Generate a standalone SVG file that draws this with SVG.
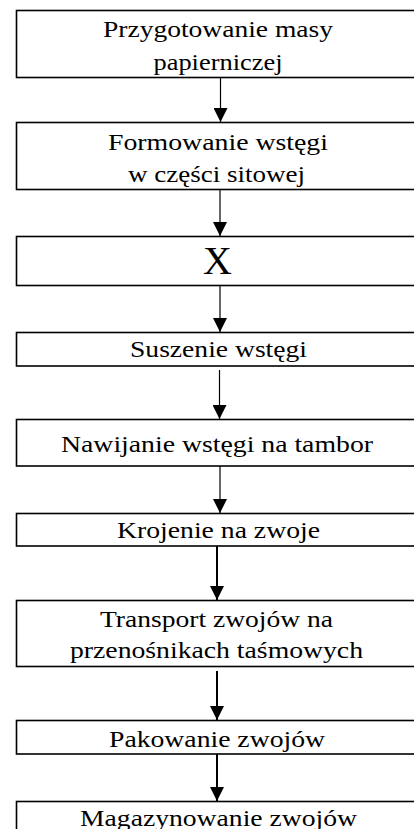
<svg xmlns="http://www.w3.org/2000/svg" width="414" height="829" viewBox="0 0 414 829">
<defs>
<style>
.box{fill:#fff;stroke:#000;stroke-width:1.6}
.t{font-size:24px;fill:#000;text-anchor:middle}
.c{stroke:#000;stroke-width:1.2;fill:none}
.c2{stroke:#000;stroke-width:2;fill:none}
</style>
<marker id="ad" markerUnits="userSpaceOnUse" markerWidth="14" markerHeight="14" viewBox="0 0 14 14" refX="14" refY="7" orient="auto">
<path d="M0,0 L14,7 L0,14 Z" fill="#000"/>
</marker>
</defs>
<rect width="414" height="829" fill="#fff"/>
<g id="connectors">
<line class="c" x1="220.5" y1="77" x2="220.5" y2="122" marker-end="url(#ad)"/>
<line class="c" x1="220" y1="190" x2="220" y2="236" marker-end="url(#ad)"/>
<line class="c" x1="220" y1="286" x2="220" y2="332" marker-end="url(#ad)"/>
<line class="c" x1="219.5" y1="370" x2="219.5" y2="419" marker-end="url(#ad)"/>
<line class="c" x1="220" y1="466" x2="220" y2="513" marker-end="url(#ad)"/>
<line class="c2" x1="217" y1="546" x2="217" y2="600" marker-end="url(#ad)"/>
<line class="c2" x1="217" y1="671" x2="217" y2="720" marker-end="url(#ad)"/>
<line class="c2" x1="217" y1="754" x2="217" y2="801" marker-end="url(#ad)"/>
</g>
<g font-family="'Liberation Serif', 'DejaVu Serif', 'Times New Roman', serif">
<g id="n1"><rect class="box" x="16.5" y="10.5" width="420" height="67"/>
<text class="t" x="218" y="37" textLength="230" lengthAdjust="spacingAndGlyphs">Przygotowanie masy</text>
<text class="t" x="218" y="70" textLength="129" lengthAdjust="spacingAndGlyphs">papierniczej</text></g>
<g id="n2"><rect class="box" x="16.5" y="122.5" width="420" height="67"/>
<text class="t" x="218" y="150" textLength="220" lengthAdjust="spacingAndGlyphs">Formowanie wstęgi</text>
<text class="t" x="216.5" y="182" textLength="177" lengthAdjust="spacingAndGlyphs">w części sitowej</text></g>
<g id="n3"><rect class="box" x="16.5" y="236.5" width="420" height="49"/>
<text class="t" x="217.5" y="274" style="font-size:40px">X</text></g>
<g id="n4"><rect class="box" x="16.5" y="332.5" width="420" height="33.5"/>
<text class="t" x="218.5" y="357" textLength="177" lengthAdjust="spacingAndGlyphs">Suszenie wstęgi</text></g>
<g id="n5"><rect class="box" x="16.5" y="419.5" width="420" height="46.5"/>
<text class="t" x="217" y="452" textLength="312" lengthAdjust="spacingAndGlyphs">Nawijanie wstęgi na tambor</text></g>
<g id="n6"><rect class="box" x="16.5" y="513.5" width="420" height="32.5"/>
<text class="t" x="218.5" y="538" textLength="203" lengthAdjust="spacingAndGlyphs">Krojenie na zwoje</text></g>
<g id="n7"><rect class="box" x="16.5" y="600.5" width="420" height="66"/>
<text class="t" x="216.5" y="627" textLength="233" lengthAdjust="spacingAndGlyphs">Transport zwojów na</text>
<text class="t" x="216.5" y="658" textLength="293" lengthAdjust="spacingAndGlyphs">przenośnikach taśmowych</text></g>
<g id="n8"><rect class="box" x="16.5" y="720.5" width="420" height="33.5"/>
<text class="t" x="217" y="747" textLength="216" lengthAdjust="spacingAndGlyphs">Pakowanie zwojów</text></g>
<g id="n9"><rect class="box" x="16.5" y="801.5" width="420" height="60"/>
<text class="t" x="218.5" y="826" textLength="277" lengthAdjust="spacingAndGlyphs">Magazynowanie zwojów</text></g>
</g>
</svg>
